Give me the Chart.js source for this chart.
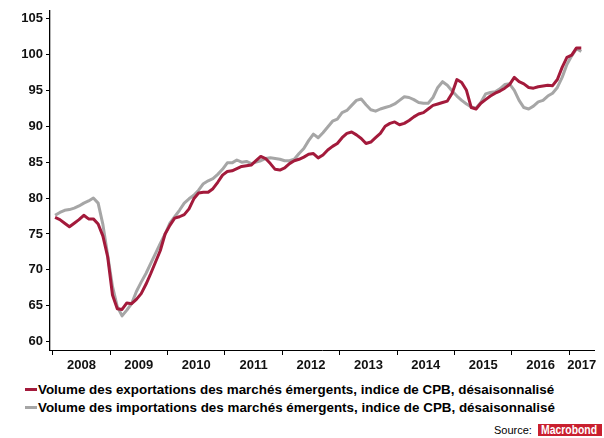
<!DOCTYPE html>
<html lang="fr">
<head>
  <meta charset="UTF-8" />
  <title>Volume des échanges des marchés émergents</title>
  <script src="https://cdn.jsdelivr.net/npm/chart.js"></script>
  <style>
    html, body { margin: 0; padding: 0; background: #fff; }
    body {
      width: 604px; height: 438px; position: relative; overflow: hidden;
      font-family: "Liberation Sans", Arial, sans-serif; color: #000;
    }
    .chart-box { position: absolute; left: 0; top: 0; width: 604px; height: 378px; }
    .legend { position: absolute; left: 25px; top: 380px; margin: 0; padding: 0; list-style: none; }
    .legend li { display: flex; align-items: center; height: 18.5px; font-weight: bold; font-size: 13.4px; white-space: nowrap; }
    .legend .swatch { display: inline-block; width: 12px; height: 3px; margin-right: 1px; }
    .source { position: absolute; left: 494px; top: 424px; display: flex; align-items: center; font-size: 11px; }
    .logo {
      display: inline-block; margin-left: 6px; width: 64px; height: 12px; overflow: hidden;
      background: #c9202f; color: #fff; line-height: 12px; font-weight: bold; font-size: 13px;
    }
    .logo span { display: inline-block; transform: scaleX(0.8); transform-origin: left center; margin-left: 3px; }
  </style>
</head>

<body>
  <div class="chart-box"><canvas id="emChart" width="604" height="378"></canvas></div>
  <ul class="legend" id="legend"></ul>
  <div class="source">Source:<span class="logo"><span>Macrobond</span></span></div>

  <script>
    // monthly, Jan 2008 - Mar 2017
    const exportsEM = [
      77.3, 77.0, 76.5, 76.0, 76.5, 77.0, 77.6, 77.1, 77.1, 76.4, 74.7, 71.8,
      66.5, 64.6, 64.5, 65.4, 65.3, 65.9, 66.7, 68.0, 69.5, 71.1, 72.7, 75.0,
      76.2, 77.2, 77.4, 77.7, 78.5, 79.9, 80.7, 80.8, 80.8, 81.3, 82.2, 83.2,
      83.7, 83.8, 84.1, 84.4, 84.5, 84.6, 85.2, 85.8, 85.5, 84.8, 84.0, 83.9,
      84.2, 84.8, 85.2, 85.4, 85.7, 86.1, 86.2, 85.6, 86.0, 86.7, 87.2, 87.6,
      88.4, 89.0, 89.2, 88.8, 88.3, 87.6, 87.8, 88.4, 89.0, 90.0, 90.4, 90.6,
      90.2, 90.4, 90.8, 91.3, 91.7, 91.9, 92.4, 92.9, 93.1, 93.3, 93.5, 94.6,
      96.5, 96.1, 95.0, 92.6, 92.4, 93.2, 93.7, 94.2, 94.6, 94.9, 95.3, 95.8,
      96.8, 96.2, 95.9, 95.4, 95.3, 95.5, 95.6, 95.7, 95.65, 96.5, 98.2, 99.6,
      99.9, 100.9, 100.9
    ];
    const importsEM = [
      77.6, 78.0, 78.3, 78.4, 78.6, 78.9, 79.3, 79.6, 80.0, 79.3, 76.3, 72.0,
      67.7, 64.9, 63.6, 64.4, 65.3, 67.0, 68.3, 69.5, 70.9, 72.3, 73.7, 75.0,
      76.5, 77.4, 78.3, 79.3, 79.9, 80.4, 81.1, 82.0, 82.4, 82.7, 83.3, 84.0,
      84.9, 84.9, 85.3, 85.0, 85.1, 84.8, 85.0, 85.2, 85.5, 85.6, 85.5, 85.4,
      85.2, 85.2, 85.4, 86.2, 86.9, 88.0, 88.9, 88.4, 89.1, 89.9, 90.7, 91.0,
      91.9, 92.2, 92.9, 93.6, 93.8, 93.0, 92.3, 92.1, 92.4, 92.6, 92.8, 93.1,
      93.6, 94.1, 94.0, 93.7, 93.3, 93.2, 93.2, 94.0, 95.4, 96.2, 95.7, 94.9,
      94.2, 93.6, 93.1, 92.7, 92.5, 93.3, 94.5, 94.7, 94.8, 95.2, 95.8, 95.9,
      95.0, 93.6, 92.6, 92.4, 92.8, 93.4, 93.6, 94.2, 94.6, 95.4, 96.8, 98.6,
      99.8, 100.8, 100.4
    ];
    const years = [2008, 2009, 2010, 2011, 2012, 2013, 2014, 2015, 2016, 2017];
    const yTicks = [60, 65, 70, 75, 80, 85, 90, 95, 100, 105];
    const seriesNames = [
      "Volume des exportations des marchés émergents, indice de CPB, désaisonnalisé",
      "Volume des importations des marchés émergents, indice de CPB, désaisonnalisé"
    ];

    const X_MIN = 2007.953, X_MAX = 2017.43;
    const toDate = (i) => 2008 + (i + 0.5) / 12; // mid-month
    // year label sits in the middle of its year (last one: middle of what is shown)
    const labelPos = years.map((y) => Math.min(y + 0.5, (y + X_MAX) / 2));

    const axisFont = { family: "'Liberation Sans', Arial, sans-serif", size: 13, weight: "bold" };

    const chart = new Chart(document.getElementById("emChart"), {
      type: "line",
      data: {
        datasets: [
          {
            label: seriesNames[0],
            data: exportsEM.map((v, i) => ({ x: toDate(i), y: v })),
            borderColor: "#a31a3b",
            borderWidth: 3
          },
          {
            label: seriesNames[1],
            data: importsEM.map((v, i) => ({ x: toDate(i), y: v })),
            borderColor: "#a6a6a6",
            borderWidth: 3
          }
        ]
      },
      options: {
        responsive: false,
        animation: false,
        layout: { padding: { top: 9, right: 10, bottom: 5, left: 0 } },
        elements: {
          point: { radius: 0 },
          line: { tension: 0, borderJoinStyle: "round", fill: false }
        },
        plugins: { legend: { display: false }, tooltip: { enabled: false } },
        scales: {
          x: {
            type: "linear", position: "bottom", weight: 0,
            min: X_MIN, max: X_MAX,
            afterBuildTicks: (axis) => { axis.ticks = years.map((v) => ({ value: v })); },
            afterFit: (axis) => { axis.height = 5; },
            ticks: { display: false },
            grid: { drawOnChartArea: false, drawTicks: true, tickLength: 5, color: "#000", lineWidth: 1 },
            border: { color: "#000", width: 1 }
          },
          xYears: {
            type: "linear", position: "bottom", weight: 1,
            min: X_MIN, max: X_MAX,
            afterBuildTicks: (axis) => { axis.ticks = labelPos.map((v) => ({ value: v })); },
            afterFit: (axis) => { axis.height = 18; },
            ticks: {
              autoSkip: false, maxRotation: 0, padding: 3, color: "#111", font: axisFont,
              callback: (v, i) => String(years[i])
            },
            grid: { display: false, drawTicks: false },
            border: { display: false }
          },
          y: {
            min: 58.85, max: 106.07,
            afterBuildTicks: (axis) => { axis.ticks = yTicks.map((v) => ({ value: v })); },
            afterFit: (axis) => { axis.width = 50; },
            ticks: { padding: 3, color: "#111", font: axisFont },
            grid: { drawOnChartArea: false, drawTicks: true, tickLength: 4, color: "#000", lineWidth: 1 },
            border: { color: "#000", width: 1.3 }
          }
        }
      }
    });

    // legend below the chart, built from the datasets
    const legend = document.getElementById("legend");
    chart.data.datasets.forEach((ds) => {
      const li = document.createElement("li");
      li.innerHTML = `<span class="swatch" style="background:${ds.borderColor}"></span>${ds.label}`;
      legend.appendChild(li);
    });
  </script>
</body>
</html>
